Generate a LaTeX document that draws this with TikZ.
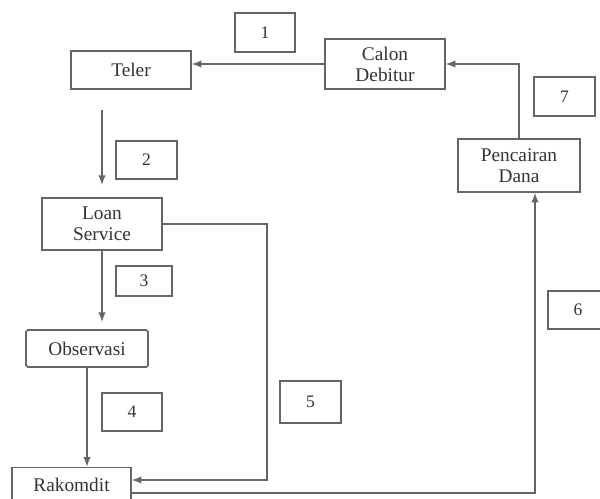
\documentclass[tikz,border=0pt]{standalone}
\usepackage{fontspec}
\setmainfont{Liberation Serif}
\usetikzlibrary{calc}
\begin{document}
\begin{tikzpicture}[
    x=0.02cm, y=-0.02cm,
    block/.style={rectangle, draw=black!60, line width=0.9pt, align=center, inner sep=1pt,
                  font=\fontsize{11}{12}\selectfont, text=black!80},
    nummer/.style={block, font=\fontsize{10}{12}\selectfont},
    pfeil/.style={draw=black!60, line width=0.9pt},
    >=latex
]
\useasboundingbox (0,0) rectangle (600,499);

% Langkah-langkah
\node[block, minimum width=2.4cm, minimum height=0.76cm] at (131,70) (teler) {Teler};
\node[block, minimum width=2.4cm, minimum height=1cm] at (385,64) (calon) {Calon\\Debitur};
\node[block, minimum width=2.44cm, minimum height=1.06cm] at (519,165.5) (cair) {Pencairan\\Dana};
\node[block, minimum width=2.4cm, minimum height=1.04cm] at (102,224) (loan) {Loan\\Service};
\node[block, minimum width=2.44cm, minimum height=0.74cm, rounded corners=1pt] at (87,348.5) (observasi) {Observasi};
\node[block, minimum width=2.38cm, minimum height=0.7cm] at (71.5,485) (rakomdit) {Rakomdit};

% Nomor
\node[nummer, minimum width=1.2cm, minimum height=0.78cm] at (265,32.5) (n1) {1};
\node[nummer, minimum width=1.22cm, minimum height=0.76cm] at (146.5,160) (n2) {2};
\node[nummer, minimum width=1.12cm, minimum height=0.6cm] at (144,281) (n3) {3};
\node[nummer, minimum width=1.2cm, minimum height=0.76cm] at (132,412) (n4) {4};
\node[nummer, minimum width=1.22cm, minimum height=0.84cm] at (310.5,402) (n5) {5};
\node[nummer, minimum width=1.2cm, minimum height=0.76cm] at (578,310) (n6) {6};
\node[nummer, minimum width=1.22cm, minimum height=0.78cm] at (564.5,96.5) (n7) {7};

% Titik bebas
\coordinate (a2) at (102,110);
\coordinate (b2) at (102,185);
\coordinate (b3) at (102,322);
\coordinate (k6) at (535,493);

% Panah
\draw[pfeil, ->] (calon.west) -- (calon.west -| teler.east);
\draw[pfeil, ->] (a2) -- (b2);
\draw[pfeil, ->] (loan.south) -- (b3);
\draw[pfeil, ->] (observasi.south) -- (observasi.south |- rakomdit.north);
\draw[pfeil, ->] (loan.east) -- (267,224) -- (267,480) -- ($(rakomdit.east)+(0,-5)$);
\draw[pfeil, ->] ($(rakomdit.east)+(0,8)$) -- (k6) -- (k6 |- cair.south);
\draw[pfeil, ->] (cair.north) |- (calon.east);
\end{tikzpicture}
\end{document}
